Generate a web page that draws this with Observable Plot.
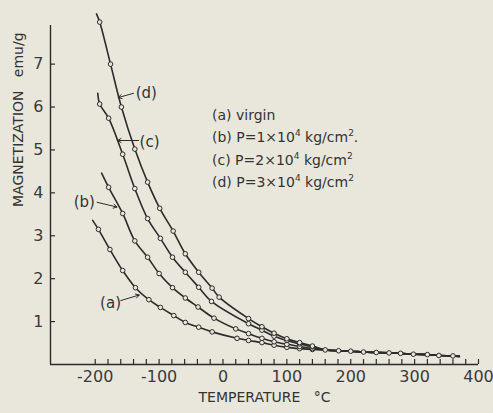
<!DOCTYPE html>
<html><head><meta charset="utf-8">
<script src="https://cdn.jsdelivr.net/npm/d3@7"></script>
<script src="https://cdn.jsdelivr.net/npm/@observablehq/plot@0.6"></script>
<style>
html,body{margin:0;padding:0;background:#e9e7dc;}
#wrap{position:relative;width:493px;height:413px;overflow:hidden;background:#e9e7dc;}
#legend{position:absolute;left:212px;top:104px;font:14px "DejaVu Sans",sans-serif;color:#333;line-height:22.4px;white-space:nowrap;}
#legend sup{font-size:9px;vertical-align:6px;line-height:0;}
</style></head><body><div id="wrap"><div id="legend"></div></div>
<script>
// ---- data ----
const seriesKeys = ["a", "b", "c", "d"];
const legendKeys = ["(a)", "(b)", "(c)", "(d)"];
const legendPressure = [null, 1, 2, 3]; // ×10^4 kg/cm²

const tempA = [-195,-177,-157,-137,-116,-98,-77,-59,-38,-17,22,40,61,80,100,120,140];
const magA  = [3.15,2.68,2.19,1.79,1.51,1.33,1.14,0.98,0.87,0.76,0.61,0.56,0.51,0.45,0.40,0.37,0.35];
const tempB = [-179,-157,-138,-118,-100,-79,-59,-39,-14,20,40,61,80,100,120,140];
const magB  = [4.13,3.52,2.88,2.50,2.12,1.79,1.55,1.34,1.08,0.83,0.72,0.61,0.53,0.47,0.42,0.37];
const tempC = [-193,-179,-157,-138,-118,-98,-79,-59,-38,-18,40,61,80,100,120,140];
const magC  = [6.07,5.74,4.90,4.10,3.40,2.94,2.50,2.15,1.80,1.47,0.95,0.80,0.66,0.56,0.48,0.41];
const tempD = [-193,-176,-159,-138,-118,-99,-78,-59,-38,-17,-6,40,61,80,100,120,140];
const magD  = [7.98,7.00,6.00,5.02,4.25,3.64,3.11,2.58,2.15,1.78,1.57,1.07,0.88,0.73,0.60,0.51,0.43];
// common high-temperature tail where all curves merge
const tailTemp = [160,181,200,220,240,260,278,298,320,338,360];
const tailMag  = [0.34,0.32,0.31,0.29,0.28,0.27,0.26,0.24,0.23,0.21,0.20];
// curve extents (line beyond first/last marker)
const lineStartTemp = [-204,-190,-196,-198];
const lineStartMag  = [3.36,4.46,6.32,8.17];
const lineEndTemp = [370];
const lineEndMag  = [0.19];

// axis ticks
const xMinorTicks = d3.range(-200, 401, 20);
const xLabelTicks = [-200,-100,0,100,200,300,400];
const yTicks = [1,2,3,4,5,6,7];

// curve annotations
const annLabel = ["(a)","(b)","(c)","(d)"];
const annTextT = [-176,-217,-115,-120];
const annTextM = [1.44,3.78,5.17,6.32];
const annFromT = [-160,-197,-132,-140];
const annFromM = [1.49,3.78,5.22,6.32];
const annToT   = [-131,-166,-165,-164];
const annToM   = [1.62,3.67,5.22,6.22];

// ---- build tables ----
const temps = [tempA,tempB,tempC,tempD];
const mags = [magA,magB,magC,magD];
const lineRows = [];
const pointRows = [];
seriesKeys.forEach((s, i) => {
  lineRows.push({s, t: lineStartTemp[i], m: lineStartMag[i]});
  temps[i].forEach((t, j) => {
    lineRows.push({s, t, m: mags[i][j]});
    pointRows.push({s, t, m: mags[i][j]});
  });
  tailTemp.forEach((t, j) => lineRows.push({s, t, m: tailMag[j]}));
  lineRows.push({s, t: lineEndTemp[0], m: lineEndMag[0]});
});
tailTemp.forEach((t, j) => pointRows.push({s: "tail", t, m: tailMag[j]}));
const ann = annLabel.map((l, i) => ({l, tx: annTextT[i], ty: annTextM[i], x1: annFromT[i], y1: annFromM[i], x2: annToT[i], y2: annToM[i]}));

const ink = "#2b2b2b";
const bg = "#e9e7dc";

const chart = Plot.plot({
  width: 493,
  height: 413,
  marginLeft: 50,
  marginRight: 15,
  marginTop: 25,
  marginBottom: 49,
  style: {fontFamily: "DejaVu Sans, sans-serif", background: "transparent", color: ink},
  x: {domain: [-270, 400]},
  y: {domain: [0, 7.9]},
  marks: [
    Plot.ruleY([0], {stroke: ink, strokeWidth: 1.4}),
    Plot.ruleX([-270], {stroke: ink, strokeWidth: 1.4}),
    Plot.axisX({ticks: xMinorTicks, tickSize: 5, dy: -5, tickFormat: () => "", label: null, stroke: ink, strokeWidth: 1.2}),
    Plot.axisX({ticks: xLabelTicks, tickSize: 0, tickPadding: 6, tickFormat: d => String(d), label: null, fontSize: 16, fill: "#3a3a3a"}),
    Plot.axisY({ticks: yTicks, tickSize: 5, dx: 5, tickFormat: () => "", label: null, stroke: ink, strokeWidth: 1.2}),
    Plot.axisY({ticks: yTicks, tickSize: 0, tickPadding: 7, tickFormat: d => String(d), label: null, fontSize: 16, fill: "#3a3a3a"}),
    Plot.line(lineRows, {x: "t", y: "m", z: "s", curve: "catmull-rom", stroke: ink, strokeWidth: 1.6}),
    Plot.dot(pointRows, {x: "t", y: "m", r: 2.3, stroke: ink, strokeWidth: 1, fill: bg}),
    Plot.arrow(ann, {x1: "x1", y1: "y1", x2: "x2", y2: "y2", stroke: ink, strokeWidth: 1, headLength: 6}),
    Plot.text(ann, {x: "tx", y: "ty", text: "l", fontSize: 15, fill: "#333"}),
    Plot.text(["MAGNETIZATION   emu/g"], {frameAnchor: "left", dx: -32, dy: 12, rotate: -90, fontSize: 14, fill: "#333"}),
    Plot.text(["TEMPERATURE   °C"], {frameAnchor: "bottom", dx: 0, dy: 37, fontSize: 14, fill: "#333"})
  ]
});
document.getElementById("wrap").prepend(chart);
chart.style.position = "absolute";
chart.style.left = "0";
chart.style.top = "0";

const legend = document.getElementById("legend");
legendKeys.forEach((k, i) => {
  const div = document.createElement("div");
  const p = legendPressure[i];
  if (p == null) div.innerHTML = k + " virgin";
  else div.innerHTML = k + " P=" + p + "×10<sup>4</sup> kg/cm<sup>2</sup>" + (i === 1 ? "." : "");
  legend.appendChild(div);
});
</script>
</body></html>
